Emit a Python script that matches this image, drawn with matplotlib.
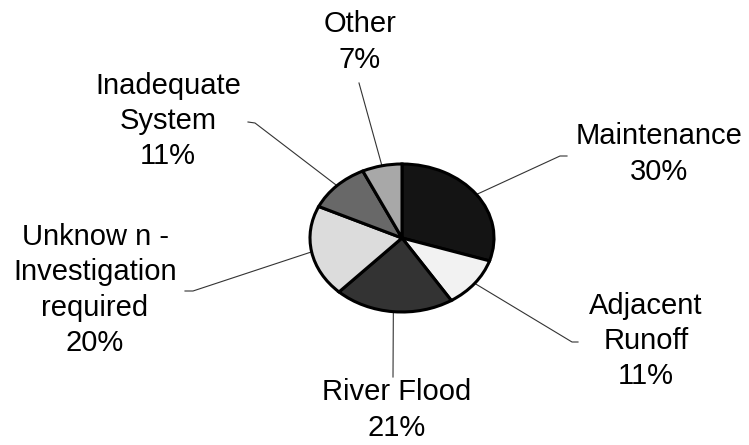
import matplotlib
matplotlib.use("Agg")
import matplotlib.pyplot as plt
import numpy as np

# data
categories = ["Maintenance", "Adjacent\nRunoff", "River Flood",
              "Unknow n -\nInvestigation\nrequired", "Inadequate\nSystem", "Other"]
percent = [30, 11, 21, 20, 11, 7]
colors = ["#141414", "#f2f2f2", "#333333", "#dcdcdc", "#686868", "#a8a8a8"]

# layout in pixels (origin top-left)
W, H = 749, 445
CX, CY, RX, RY = 402, 238, 92, 74
label_pos = [(659, 154), (646, 341), (397, 410), (95, 290), (168, 121), (360, 42)]
# leader: elbow point and end point near the label
leader_pts = [
    [(560, 156), (567, 156)],
    [(572, 342), (578, 342)],
    [(393, 377)],
    [(193, 291), (185, 291)],
    [(255, 123), (248, 122)],
    [(359, 83)],
]


def px(x, y):
    return (x - CX) / RX, (CY - y) / RY


plt.rcParams['font.family'] = ['Liberation Sans', 'DejaVu Sans']

fig = plt.figure(figsize=(W / 100, H / 100), dpi=100)
ax = fig.add_axes([0, 0, 1, 1])

wedges, _ = ax.pie(percent, startangle=90, counterclock=False, colors=colors,
                   wedgeprops=dict(edgecolor="black", linewidth=2.2))
ax.set_aspect("auto")
ax.set_xlim(-CX / RX, (W - CX) / RX)
ax.set_ylim(-(H - CY) / RY, CY / RY)
ax.axis("off")

for w, name, p, pos, pts in zip(wedges, categories, percent, label_pos, leader_pts):
    mid = np.deg2rad((w.theta1 + w.theta2) / 2)
    xs = [np.cos(mid)] + [px(*q)[0] for q in pts]
    ys = [np.sin(mid)] + [px(*q)[1] for q in pts]
    ax.plot(xs, ys, color="#333333", lw=0.8, zorder=0)
    tx, ty = px(*pos)
    ax.text(tx, ty, f"{name}\n{p}%", ha="center", va="center",
            multialignment="center", fontsize=21, linespacing=1.33)

fig.savefig("out.png", dpi=100)
